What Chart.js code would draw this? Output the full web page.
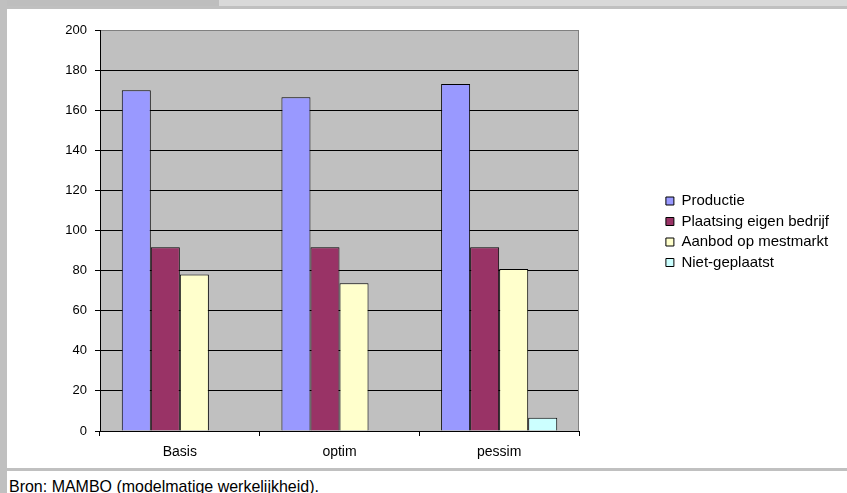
<!DOCTYPE html>
<html><head><meta charset="utf-8">
<script src="https://cdn.jsdelivr.net/npm/chart.js@4"></script>
<style>
html,body{margin:0;padding:0;background:#fff;width:847px;height:493px;overflow:hidden;position:relative;}
#topDark{position:absolute;left:0;top:0;width:219px;height:6px;background:#bebebe}
#topLight{position:absolute;left:219px;top:0;width:628px;height:6px;background:#d9d9d9}
#topLine{position:absolute;left:0;top:6px;width:847px;height:3px;background:#c0c0c0}
#leftBar{position:absolute;left:0;top:0;width:7px;height:493px;background:#c0c0c0}
#sep{position:absolute;left:7px;top:468px;width:840px;height:3px;background:#c0c0c0}
#wrap{position:absolute;left:7px;top:9px;width:840px;height:459px}
#src{position:absolute;left:9px;top:478px;font-family:'Liberation Sans',sans-serif;font-size:17px;line-height:1;color:#000;white-space:nowrap;transform:scaleX(0.94);transform-origin:0 0;}
</style>
</head><body>
<div id="topDark"></div><div id="topLight"></div><div id="topLine"></div>
<div id="leftBar"></div><div id="sep"></div>
<div id="wrap"><canvas id="c" width="840" height="459"></canvas></div>
<div id="src">Bron: MAMBO (modelmatige werkelijkheid).</div>
<script>
const categories = ['Basis', 'optim', 'pessim'];
const seriesNames = ['Productie', 'Plaatsing eigen bedrijf', 'Aanbod op mestmarkt', 'Niet-geplaatst'];
const productie = [170, 166.4, 173.1];
const plaatsing = [91.6, 91.6, 91.6];
const aanbod = [78, 73.7, 80.8];
const nietGeplaatst = [0, 0, 6.6];
const yMin = 0, yMax = 200, yStep = 20;

const PAD_R = 8;
const plotBg = {
  id: 'plotBg',
  beforeDraw(chart) {
    const a = chart.chartArea, ctx = chart.ctx;
    ctx.save();
    ctx.fillStyle = '#c0c0c0';
    ctx.fillRect(a.left, a.top, a.right - a.left, a.bottom - a.top);
    ctx.restore();
  },
  beforeDatasetsDraw(chart) {
    const a = chart.chartArea, ctx = chart.ctx;
    ctx.save();
    ctx.strokeStyle = '#808080';
    ctx.lineWidth = 1;
    ctx.beginPath();
    ctx.moveTo(Math.round(a.right) - 0.5, a.top);
    ctx.lineTo(Math.round(a.right) - 0.5, a.bottom);
    ctx.stroke();
    ctx.restore();
  }
};

const mk = (label, data, color) => ({
  label, data, backgroundColor: color, borderColor: '#000', borderWidth: 1,
  categoryPercentage: 4 / 5.5, barPercentage: 1
});

new Chart(document.getElementById('c'), {
  type: 'bar',
  data: {
    labels: categories,
    datasets: [
      mk(seriesNames[0], productie, '#9999ff'),
      mk(seriesNames[1], plaatsing, '#993366'),
      mk(seriesNames[2], aanbod, '#ffffcc'),
      mk(seriesNames[3], nietGeplaatst, '#ccffff')
    ]
  },
  options: {
    responsive: false,
    animation: false,
    devicePixelRatio: 1,
    layout: { padding: { top: 21, left: 0, right: PAD_R, bottom: 0 } },
    plugins: {
      tooltip: { enabled: false },
      legend: {
        position: 'right',
        align: 'start',
        maxWidth: 260,
        title: { display: true, text: '', font: { size: 10 }, padding: { top: 146, bottom: 0 } },
        labels: {
          boxWidth: 8, boxHeight: 8, padding: 5.5, color: '#000',
          font: { family: 'Liberation Sans', size: 15 }
        }
      }
    },
    scales: {
      x: {
        ticks: { color: '#000', font: { family: 'Liberation Sans', size: 14 }, padding: 8 },
        grid: { drawOnChartArea: false, tickLength: 5, color: '#000', offset: true },
        border: { color: '#000', width: 1 },
        afterFit: s => { s.height = 37; }
      },
      y: {
        min: yMin, max: yMax,
        ticks: { stepSize: yStep, color: '#000', font: { family: 'Liberation Sans', size: 13 }, padding: 8 },
        grid: {
          color: c => (c.tick && c.tick.value === yMax) ? '#808080' : '#000',
          tickColor: '#000', tickLength: 5, lineWidth: 1
        },
        border: { color: '#000', width: 1 },
        afterFit: s => { s.width = 93; }
      },
      y2: {
        type: 'linear', axis: 'y', position: 'right', display: true,
        grid: { display: false, drawOnChartArea: false },
        ticks: { display: false },
        border: { display: false },
        afterFit: s => { s.width = Math.max(0, 840 - PAD_R - s.chart.legend.width - 572); }
      }
    }
  },
  plugins: [plotBg]
});
</script>
</body></html>
